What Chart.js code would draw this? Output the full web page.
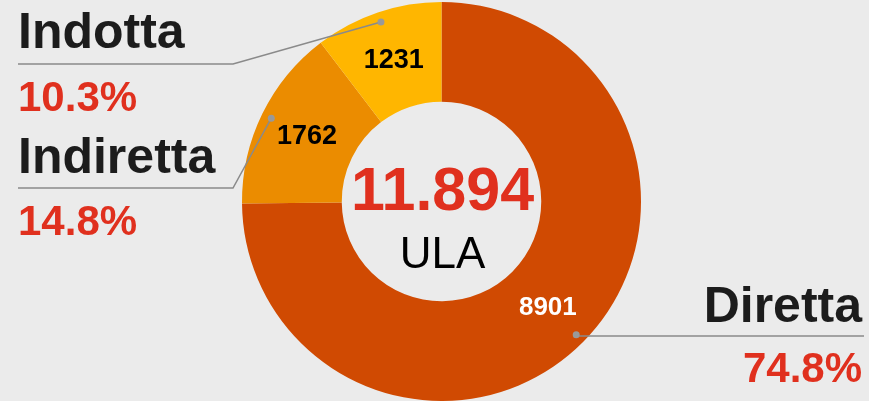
<!DOCTYPE html>
<html>
<head>
<meta charset="utf-8">
<script src="https://cdn.jsdelivr.net/npm/chart.js@4/dist/chart.umd.min.js"></script>
<style>
  html, body { margin: 0; padding: 0; background: #ebebeb; }
  canvas { display: block; }
</style>
</head>
<body>
<canvas id="c" width="869" height="401"></canvas>
<script>
const categories = ['Diretta', 'Indiretta', 'Indotta'];
const values = [8901, 1762, 1231];
const percentLabels = ['74.8%', '14.8%', '10.3%'];
const totalLabel = '11.894';
const unitLabel = 'ULA';
const colors = ['#d04a02', '#eb8c00', '#ffb600'];
const valueLabelColors = ['#ffffff', '#000000', '#000000'];

const FONT = '"Liberation Sans", Arial, sans-serif';
const RED = '#e0301e';
const DARK = '#1c1c1c';
const LINE = '#8a8a8a';

// Callout text blocks (layout only)
const callouts = [
  { name: 'Diretta',   align: 'right', x: 862, nameY: 322, lineY: 336, pctY: 382, lineEnd: 864, elbowX: null },
  { name: 'Indiretta', align: 'left',  x: 18,  nameY: 173, lineY: 188, pctY: 235, lineEnd: 18,  elbowX: 233 },
  { name: 'Indotta',   align: 'left',  x: 18,  nameY: 48,  lineY: 64,  pctY: 111, lineEnd: 18,  elbowX: 233 }
];

const labelPlugin = {
  id: 'labels',
  afterDatasetsDraw(chart) {
    const ctx = chart.ctx;
    const meta = chart.getDatasetMeta(0);
    ctx.save();
    meta.data.forEach((arc, i) => {
      const p = arc.getProps(['x', 'y', 'startAngle', 'endAngle', 'innerRadius', 'outerRadius'], true);
      const mid = (p.startAngle + p.endAngle) / 2;
      const rMid = (p.innerRadius + p.outerRadius) / 2;
      // value label
      ctx.fillStyle = valueLabelColors[i];
      ctx.font = 'bold ' + (i === 0 ? 26 : 27) + 'px ' + FONT;
      ctx.textAlign = 'center';
      ctx.textBaseline = 'middle';
      ctx.fillText(String(values[i]), p.x + Math.cos(mid) * rMid, p.y + Math.sin(mid) * rMid + 1);

      // leader line
      const c = callouts[i];
      const dx = p.x + Math.cos(mid) * p.outerRadius * 0.95;
      const dy = p.y + Math.sin(mid) * p.outerRadius * 0.95;
      ctx.strokeStyle = LINE;
      ctx.lineWidth = 1.5;
      ctx.beginPath();
      ctx.moveTo(dx, dy);
      if (c.elbowX !== null) ctx.lineTo(c.elbowX, c.lineY);
      else ctx.lineTo(dx, c.lineY);
      ctx.lineTo(c.lineEnd, c.lineY);
      ctx.stroke();
      ctx.fillStyle = '#999999';
      ctx.beginPath();
      ctx.arc(dx, dy, 3.5, 0, Math.PI * 2);
      ctx.fill();

      // callout texts
      ctx.textAlign = c.align;
      ctx.textBaseline = 'alphabetic';
      ctx.fillStyle = DARK;
      ctx.font = 'bold 50px ' + FONT;
      ctx.fillText(categories[i], c.x, c.nameY);
      ctx.fillStyle = RED;
      ctx.font = 'bold 42px ' + FONT;
      ctx.fillText(percentLabels[i], c.x, c.pctY);
    });
    // center text
    const a0 = meta.data[0];
    ctx.textAlign = 'center';
    ctx.textBaseline = 'alphabetic';
    ctx.fillStyle = RED;
    ctx.font = 'bold 61px ' + FONT;
    ctx.fillText(totalLabel, a0.x + 1, a0.y + 8);
    ctx.fillStyle = '#000000';
    ctx.font = '44px ' + FONT;
    ctx.fillText(unitLabel, a0.x + 1, a0.y + 66);
    ctx.restore();
  }
};

new Chart(document.getElementById('c'), {
  type: 'doughnut',
  data: {
    labels: categories,
    datasets: [{
      data: values,
      backgroundColor: colors,
      borderWidth: 0,
      hoverOffset: 0
    }]
  },
  options: {
    responsive: false,
    animation: false,
    cutout: '50%',
    layout: { padding: { top: 2, bottom: 0, left: 14, right: 0 } },
    plugins: {
      legend: { display: false },
      tooltip: { enabled: false }
    },
    events: []
  },
  plugins: [labelPlugin]
});
</script>
</body>
</html>
